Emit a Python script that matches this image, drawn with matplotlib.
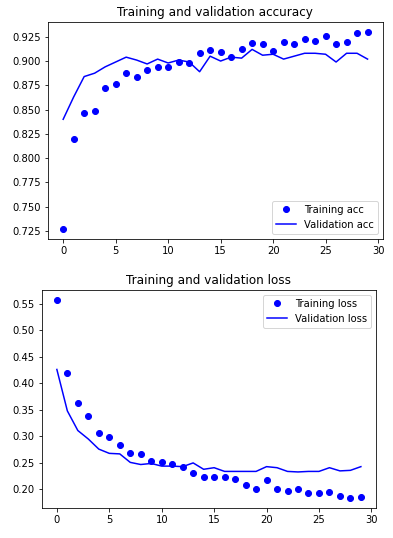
import matplotlib
matplotlib.use("Agg")
import matplotlib.pyplot as plt

epochs = list(range(30))

acc = [0.727, 0.820, 0.846, 0.849, 0.872, 0.876, 0.888, 0.884, 0.891, 0.8935,
       0.8935, 0.899, 0.898, 0.908, 0.911, 0.909, 0.904, 0.912, 0.919, 0.918,
       0.910, 0.920, 0.918, 0.923, 0.921, 0.926, 0.918, 0.920, 0.929, 0.930]
val_acc = [0.840, 0.863, 0.884, 0.8875, 0.894, 0.899, 0.904, 0.901, 0.897, 0.902,
           0.898, 0.901, 0.899, 0.889, 0.905, 0.900, 0.904, 0.903, 0.912, 0.906,
           0.907, 0.902, 0.905, 0.908, 0.908, 0.907, 0.899, 0.908, 0.908, 0.902]

loss = [0.557, 0.420, 0.3625, 0.338, 0.306, 0.299, 0.284, 0.269, 0.267, 0.254,
        0.252, 0.248, 0.243, 0.231, 0.224, 0.224, 0.224, 0.220, 0.209, 0.201,
        0.218, 0.201, 0.197, 0.201, 0.194, 0.194, 0.196, 0.188, 0.184, 0.186]
val_loss = [0.426, 0.348, 0.311, 0.295, 0.276, 0.268, 0.267, 0.251, 0.247, 0.249,
            0.244, 0.244, 0.243, 0.250, 0.238, 0.241, 0.234, 0.234, 0.234, 0.234,
            0.243, 0.241, 0.234, 0.233, 0.234, 0.234, 0.241, 0.235, 0.236, 0.243]

fig = plt.figure(figsize=(393 / 72, 538 / 72), dpi=72)

ax1 = fig.add_axes([0.122, 0.556, 0.852, 0.403])
ax1.plot(epochs, acc, "bo", label="Training acc")
ax1.plot(epochs, val_acc, "b", label="Validation acc")
ax1.set_title("Training and validation accuracy")
ax1.legend(loc="lower right")

ax2 = fig.add_axes([0.106, 0.056, 0.851, 0.405])
ax2.plot(epochs, loss, "bo", label="Training loss")
ax2.plot(epochs, val_loss, "b", label="Validation loss")
ax2.set_title("Training and validation loss")
ax2.legend(loc="upper right")

fig.savefig("out.png", dpi=72)
plt.close(fig)
